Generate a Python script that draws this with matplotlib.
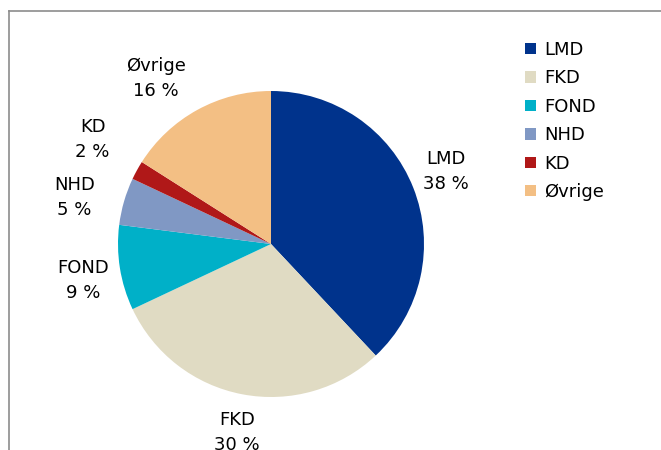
import numpy as np
import matplotlib
matplotlib.use("Agg")
import matplotlib.pyplot as plt
from matplotlib.lines import Line2D

labels = ["LMD", "FKD", "FOND", "NHD", "KD", "Øvrige"]
shares = [38, 30, 9, 5, 2, 16]
colors = ["#00338c", "#e0dbc3", "#00b0c8", "#8098c4", "#b01818", "#f3bf84"]
# label placement: distance from centre (pie radii) and angle nudge (deg)
label_dist = [1.24, 1.25, 1.25, 1.32, 1.35, 1.32]
label_turn = [1.0, 0.5, 2.0, 3, -1.5, 6]

plt.rcParams["font.family"] = "DejaVu Sans"

fig = plt.figure(figsize=(6.61, 4.5), dpi=100)
ax = fig.add_axes([71 / 661, 6 / 450, 400 / 661, 400 / 450])

wedges, _ = ax.pie(shares, colors=colors, startangle=90, counterclock=False,
                   radius=1.0, wedgeprops=dict(linewidth=0))
# pie() resets the limits, so set them afterwards (1 radius = 153 px)
ax.set_xlim(-200 / 153, 200 / 153)
ax.set_ylim(-200 / 153, 200 / 153)
ax.set_aspect("equal")
ax.axis("off")

for w, name, val, d, t in zip(wedges, labels, shares, label_dist, label_turn):
    mid = np.deg2rad((w.theta1 + w.theta2) / 2 + t)
    ax.text(d * np.cos(mid), d * np.sin(mid), "{}\n{} %".format(name, val),
            ha="center", va="center", fontsize=13, linespacing=1.5,
            color="#000000", clip_on=False)

fig.legend(wedges, labels, loc="upper left", bbox_to_anchor=(518 / 661, 1 - 33.5 / 450),
           frameon=False, fontsize=13, handlelength=0.6, handleheight=0.6,
           handletextpad=0.45, labelspacing=0.58, borderaxespad=0)

# chart frame (only top and left edge visible)
fig.add_artist(Line2D([8.5 / 661, 1], [1 - 11 / 450, 1 - 11 / 450],
                      transform=fig.transFigure, color="#8c8c8c", lw=1.2))
fig.add_artist(Line2D([8.5 / 661, 8.5 / 661], [0, 1 - 11 / 450],
                      transform=fig.transFigure, color="#8c8c8c", lw=1.2))

fig.savefig("out.png", dpi=100)
